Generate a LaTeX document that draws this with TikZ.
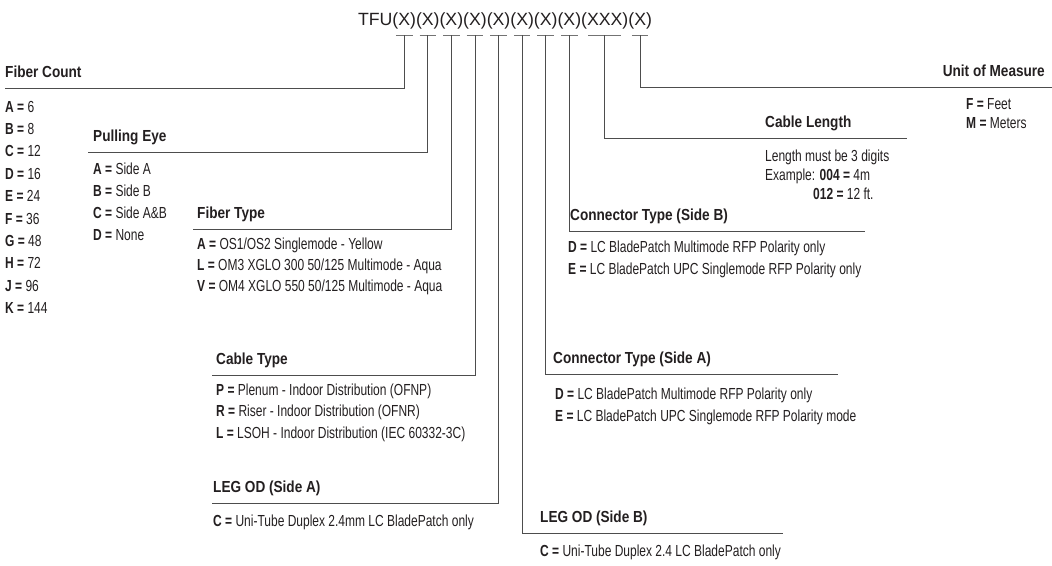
\documentclass[tikz,border=0pt]{standalone}
\usepackage{fontspec}
\setmainfont{Liberation Sans}[FakeStretch=0.75]
\newfontfamily\headfont{Liberation Sans}[FakeStretch=0.85]
\newfontfamily\titlefont{Liberation Sans}
\usetikzlibrary{positioning,calc}
\definecolor{inkgray}{HTML}{231F20}
\definecolor{rulegray}{HTML}{4D4D4D}

\begin{document}
\begin{tikzpicture}[
  x=1pt, y=-1pt,
  code/.style={font=\titlefont\fontsize{17.7}{20}\selectfont, anchor=base west, inner sep=0pt, outer sep=0pt, text=inkgray},
  head/.style={font=\headfont\bfseries\fontsize{16}{18}\selectfont, anchor=base west, inner sep=0pt, text=inkgray},
  item/.style={font=\fontsize{16}{18}\selectfont, anchor=base west, inner sep=0pt, text=inkgray},
  lead/.style={draw=rulegray, line width=0.9pt},
  tick/.style={draw=black!55, line width=0.9pt},
]
  \useasboundingbox (0,0) rectangle (1052,565);

  % Part number
  \node[code] (x0) at (358,25) {TFU};
  \foreach \i/\s [remember=\i as \p (initially 0)] in
    {1/(X),2/(X),3/(X),4/(X),5/(X),6/(X),7/(X),8/(X),9/(XXX),10/(X)}
    \node[code] (x\i) at (x\p.base east) {\s};
  \coordinate (tk) at (0,35);
  \foreach \i/\d in {1/3.5,2/3.5,3/3.5,4/3.5,5/3.5,6/3.5,7/3.5,8/3.5,9/7,10/3.5}
    \draw[tick] ($(x\i.west |- tk)+(\d,0)$) -- ($(x\i.east |- tk)+(-\d,0)$);

  % Rule ends
  \coordinate (fce) at (5,88);
  \coordinate (pee) at (88,152);
  \coordinate (fte) at (193,229);
  \coordinate (cte) at (212,375);
  \coordinate (lae) at (212,503);
  \coordinate (lbe) at (783,533);
  \coordinate (cae) at (838,374);
  \coordinate (cbe) at (865,231);
  \coordinate (cle) at (907,138);
  \coordinate (ume) at (1052,87);

  % Leaders
  \draw[lead] (x1 |- tk) |- (fce);
  \draw[lead] (x2 |- tk) |- (pee);
  \draw[lead] (x3 |- tk) |- (fte);
  \draw[lead] (x4 |- tk) |- (cte);
  \draw[lead] (x5 |- tk) |- (lae);
  \draw[lead] (x6 |- tk) |- (lbe);
  \draw[lead] (x7 |- tk) |- (cae);
  \draw[lead] (x8 |- tk) |- (cbe);
  \draw[lead] (x9 |- tk) |- (cle);
  \draw[lead] (x10 |- tk) |- (ume);

  % Fiber Count
  \node[head] (fch) at (5,77) {Fiber Count};
  \foreach \k/\v [count=\n] in {A/6,B/8,C/12,D/16,E/24,F/36,G/48,H/72,J/96,K/144}
    \node[item] (fc\n) at (5,{112+22.4*(\n-1)}) {\textbf{\k\ =} \v};

  % Pulling Eye
  \node[head] (peh) at (93,141) {Pulling Eye};
  \foreach \k/\v [count=\n] in {A/Side A,B/Side B,C/Side A\&B,D/None}
    \node[item] (pe\n) at (93,{174+22*(\n-1)}) {\textbf{\k\ =} \v};

  % Fiber Type
  \node[head] (fth) at (197,218) {Fiber Type};
  \foreach \k/\v [count=\n] in {A/{OS1/OS2 Singlemode - Yellow},
    L/{OM3 XGLO 300 50/125 Multimode - Aqua},
    V/{OM4 XGLO 550 50/125 Multimode - Aqua}}
    \node[item] (ft\n) at (197,{249+21*(\n-1)}) {\textbf{\k\ =} \v};

  % Cable Type
  \node[head] (cth) at (216,364) {Cable Type};
  \foreach \k/\v [count=\n] in {P/{Plenum - Indoor Distribution (OFNP)},
    R/{Riser - Indoor Distribution (OFNR)},
    L/{LSOH - Indoor Distribution (IEC 60332-3C)}}
    \node[item] (ct\n) at (216,{395+21.5*(\n-1)}) {\textbf{\k\ =} \v};

  % LEG OD (Side A)
  \node[head] (lah) at (213,492) {LEG OD (Side A)};
  \node[item] (la1) at (213,526) {\textbf{C =} Uni-Tube Duplex 2.4mm LC BladePatch only};

  % LEG OD (Side B)
  \node[head] (lbh) at (540,522) {LEG OD (Side B)};
  \node[item] (lb1) at (540,556) {\textbf{C =} Uni-Tube Duplex 2.4 LC BladePatch only};

  % Connector Type (Side A)
  \node[head] (cah) at (553,363) {Connector Type (Side A)};
  \node[item] (ca1) at (555,399) {\textbf{D =} LC BladePatch Multimode RFP Polarity only};
  \node[item] (ca2) at (555,421) {\textbf{E =} LC BladePatch UPC Singlemode RFP Polarity mode};

  % Connector Type (Side B)
  \node[head] (cbh) at (570,220) {Connector Type (Side B)};
  \node[item] (cb1) at (568,252) {\textbf{D =} LC BladePatch Multimode RFP Polarity only};
  \node[item] (cb2) at (568,274) {\textbf{E =} LC BladePatch UPC Singlemode RFP Polarity only};

  % Cable Length
  \node[head] (clh) at (765,127) {Cable Length};
  \node[item] (cl1) at (765,161) {Length must be 3 digits};
  \node[item] (cl2) at (765,180) {Example: \textbf{004 =} 4m};
  \node[item] (cl3) at (813,199) {\textbf{012 =} 12 ft.};

  % Unit of Measure
  \node[head, anchor=base east] (umh) at (1045,76) {Unit of Measure};
  \node[item] (um1) at (966,109) {\textbf{F =} Feet};
  \node[item] (um2) at (966,128) {\textbf{M =} Meters};
\end{tikzpicture}
\end{document}
